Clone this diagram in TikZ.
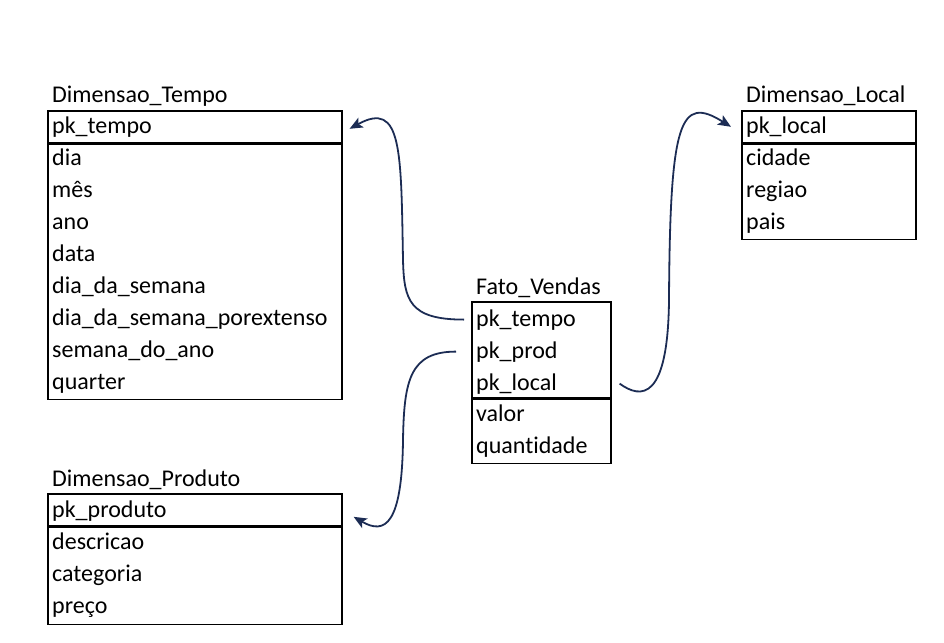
\documentclass[tikz,border=0pt]{standalone}
\usepackage{fontspec}
\setmainfont[Ligatures=NoCommon]{Carlito}
\usetikzlibrary{arrows.meta,positioning,calc}
\definecolor{navy}{RGB}{28,44,84}
\begin{document}
\begin{tikzpicture}[x=1pt,y=-1pt,
  tab/.style={draw,line width=1.6pt,inner sep=0pt,anchor=north west},
  fld/.style={inner sep=0pt,anchor=base west,font=\fontsize{24}{28}\selectfont},
  lnk/.style={navy,line width=1.8pt,-{Stealth[length=13pt,width=11pt,inset=3pt]}}]
\useasboundingbox (0,0) rectangle (944,642);
% Dimensao_Tempo
\node(tempo)[fld] at (52,102){Dimensao\_Tempo};
\node(tempokey)[tab,minimum width=294pt,minimum height=32pt] at (47,110){};
\node(tempoatt)[tab,minimum width=294pt,minimum height=255pt] at (tempokey.south west){};
\node(tpk)[fld] at (52,133){pk\_tempo};
\node(tdia)[fld] at (52,165){dia};
\node(tmes)[fld] at (52,197){mês};
\node(tano)[fld] at (52,229){ano};
\node(tdata)[fld] at (52,261){data};
\node(tdds)[fld] at (52,293){dia\_da\_semana};
\node(tddse)[fld] at (52,325){dia\_da\_semana\_porextenso};
\node(tsda)[fld] at (52,357){semana\_do\_ano};
\node(tqtr)[fld] at (52,389){quarter};
% Dimensao_Local
\node(local)[fld] at (746,102){Dimensao\_Local};
\node(localkey)[tab,minimum width=174pt,minimum height=32pt] at (741,110){};
\node(localatt)[tab,minimum width=174pt,minimum height=95pt] at (localkey.south west){};
\node(lpk)[fld] at (746,133){pk\_local};
\node(lcid)[fld] at (746,165){cidade};
\node(lreg)[fld] at (746,197){regiao};
\node(lpais)[fld] at (746,229){pais};
% Fato_Vendas
\node(fato)[fld] at (476,294){Fato\_Vendas};
\node(fatokey)[tab,minimum width=139pt,minimum height=96pt] at (471,301){};
\node(fatoatt)[tab,minimum width=139pt,minimum height=64pt] at (fatokey.south west){};
\node(ftempo)[fld] at (476,326){pk\_tempo};
\node(fprod)[fld] at (476,358){pk\_prod};
\node(flocal)[fld] at (476,390){pk\_local};
\node(fvalor)[fld] at (476,421){valor};
\node(fqtd)[fld] at (476,453){quantidade};
% Dimensao_Produto
\node(prod)[fld] at (52,486){Dimensao\_Produto};
\node(prodkey)[tab,minimum width=294pt,minimum height=32pt] at (47,493){};
\node(prodatt)[tab,minimum width=294pt,minimum height=97pt] at (prodkey.south west){};
\node(ppk)[fld] at (52,517){pk\_produto};
\node(pdesc)[fld] at (52,549){descricao};
\node(pcat)[fld] at (52,581){categoria};
\node(ppreco)[fld] at (52,613){preço};
% ligacoes
\draw[lnk] ([xshift=-12pt]ftempo.west) .. controls +(-55,0) and (404,300) .. (403,260)
  .. controls (401,150) and (402,100) .. ([xshift=7pt,yshift=-2pt]tempokey.east);
\draw[lnk] ([xshift=-20pt]fprod.west) .. controls +(-46,0) and (404,380) .. (403,440)
  .. controls (402,525) and (385,535) .. ([xshift=11pt,yshift=-7pt]prodkey.east);
\draw[lnk] ($(flocal.west -| fatokey.east)+(8,0)$) .. controls +(22,16) and (668,400) .. (669,300)
  .. controls (670,120) and (680,95) .. ([xshift=-10pt]localkey.west);
\end{tikzpicture}
\end{document}
